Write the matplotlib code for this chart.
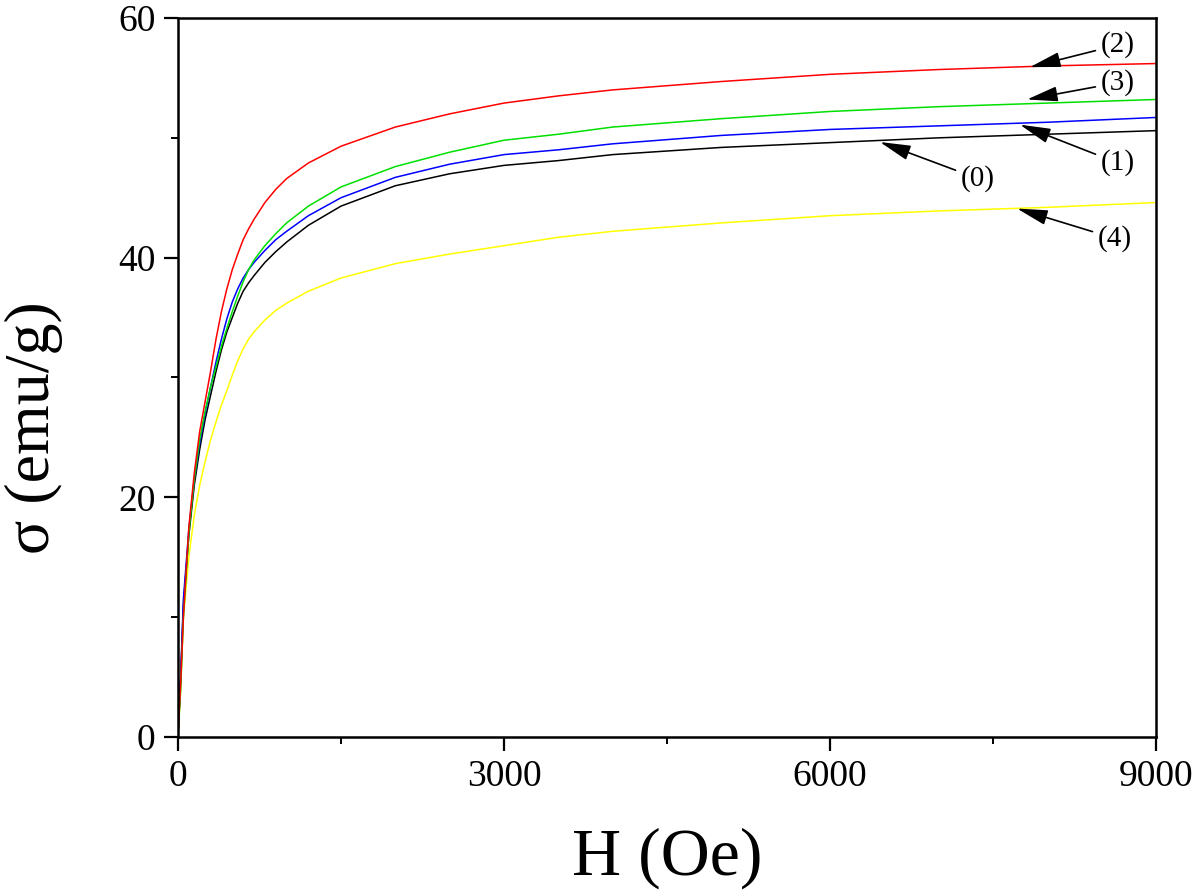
import matplotlib
matplotlib.use("Agg")
import matplotlib.pyplot as plt
from matplotlib.ticker import MultipleLocator

plt.rcParams['font.family'] = ['Liberation Serif', 'DejaVu Serif']

H = [0, 25, 50, 100, 150, 200, 250, 300, 350, 400, 450, 500, 550, 600, 650, 700,
     800, 900, 1000, 1200, 1500, 2000, 2500, 3000, 3500, 4000, 5000, 6000, 7000,
     8000, 9000]

sigma0 = [0, 5, 11, 16.8, 21, 24, 26.5, 28.5, 30.5, 32.3, 33.8, 35, 36.2, 37.2, 37.9,
          38.5, 39.6, 40.5, 41.3, 42.7, 44.3, 46.0, 47.0, 47.7, 48.1, 48.6, 49.2,
          49.6, 50.0, 50.3, 50.6]
sigma1 = [0, 5, 11.5, 17.3, 21.5, 24.5, 27, 29.2, 31.3, 33.2, 34.9, 36.3, 37.4, 38.3,
          39.0, 39.6, 40.6, 41.5, 42.2, 43.5, 45.0, 46.7, 47.8, 48.6, 49.0, 49.5,
          50.2, 50.7, 51.0, 51.3, 51.7]
sigma2 = [0, 4.5, 10, 17.5, 22, 25.5, 28, 30.5, 33.2, 35.5, 37.4, 39, 40.3, 41.5,
          42.4, 43.2, 44.6, 45.7, 46.6, 47.9, 49.3, 50.9, 52.0, 52.9, 53.5, 54.0,
          54.7, 55.3, 55.7, 56.0, 56.2]
sigma3 = [0, 4, 10, 17, 21.5, 24.8, 27.2, 29.2, 30.9, 32.6, 34.1, 35.5, 36.8, 38,
          39, 39.8, 41, 42, 42.9, 44.3, 45.9, 47.6, 48.8, 49.8, 50.3, 50.9, 51.6,
          52.2, 52.6, 52.9, 53.2]
sigma4 = [0, 4, 10, 15, 18.5, 21, 23, 24.8, 26.3, 27.7, 28.9, 30.2, 31.4, 32.4,
          33.2, 33.8, 34.8, 35.6, 36.2, 37.2, 38.3, 39.5, 40.3, 41.0, 41.7, 42.2,
          42.9, 43.5, 43.9, 44.2, 44.6]

labels = ['(0)', '(1)', '(2)', '(3)', '(4)']
label_text_pos = [(7362, 46.6), (8650, 47.9), (8650, 57.75), (8650, 54.6), (8623, 41.6)]
label_tip_pos = [(6460, 49.65), (7748, 51.1), (7840, 55.9), (7813, 53.2), (7721, 44.1)]

fig = plt.figure(figsize=(12, 8.96), dpi=100)
ax = fig.add_axes([0.1483, 0.1775, 0.815, 0.8024])

ax.plot(H, sigma4, color='#ffff00', lw=1.1)
ax.plot(H, sigma0, color='black', lw=1.1)
ax.plot(H, sigma1, color='#0000ff', lw=1.1)
ax.plot(H, sigma3, color='#00e000', lw=1.1)
ax.plot(H, sigma2, color='#ff0000', lw=1.1)

ax.set_xlim(0, 9000)
ax.set_ylim(0, 60)
ax.xaxis.set_major_locator(MultipleLocator(3000))
ax.xaxis.set_minor_locator(MultipleLocator(1500))
ax.yaxis.set_major_locator(MultipleLocator(20))
ax.yaxis.set_minor_locator(MultipleLocator(10))
ax.tick_params(which='major', direction='out', length=10, width=1.6, labelsize=27, pad=6)
ax.tick_params(which='minor', direction='out', length=5, width=1.4)
ax.tick_params(top=False, right=False, which='both')
for s in ax.spines.values():
    s.set_linewidth(1.8)

ax.set_xlabel('H (Oe)', fontsize=49, labelpad=24)
ax.set_ylabel('σ (emu/g)', fontsize=46)
ax.yaxis.set_label_coords(-0.118, 0.43)

for lab, tpos, tip in zip(labels, label_text_pos, label_tip_pos):
    ax.annotate(lab, xy=tip, xytext=tpos, fontsize=21, ha='center', va='center',
                arrowprops=dict(arrowstyle='-|>,head_length=0.9,head_width=0.22',
                                color='black', lw=1.2, shrinkA=2, shrinkB=0))

fig.savefig('out.png', dpi=100)
